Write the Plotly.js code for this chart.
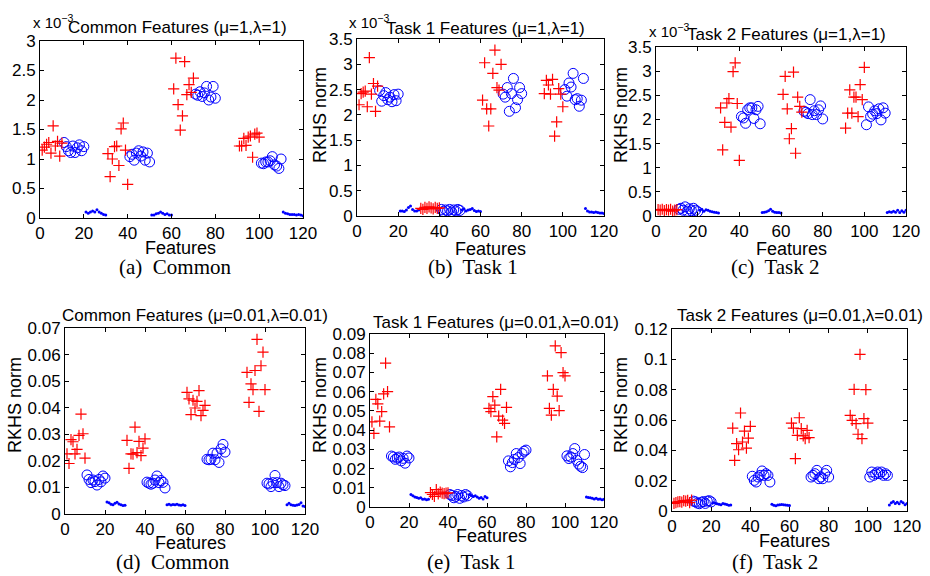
<!DOCTYPE html>
<html><head><meta charset="utf-8">
<script src="https://cdn.plot.ly/plotly-3.0.1.min.js"></script>
<style>body{margin:0;background:#fff}#chart{width:930px;height:576px}</style>
</head><body><div id="chart"></div>
<script>
// Feature indices (x values)
const featCross = [1,2,3,4,5,6,7,8,9,10, 31,32,33,34,35,36,37,38,39,40, 61,62,63,64,65,66,67,68,69,70, 91,92,93,94,95,96,97,98,99,100];
const featCircle = [11,12,13,14,15,16,17,18,19,20, 41,42,43,44,45,46,47,48,49,50, 71,72,73,74,75,76,77,78,79,80, 101,102,103,104,105,106,107,108,109,110];
const featDot = [21,22,23,24,25,26,27,28,29,30, 51,52,53,54,55,56,57,58,59,60, 111,112,113,114,115,116,117,118,119,120];

// (a) Common, mu=1, lambda=1  (values in units of 1e-3)
const crossA = [1.15,1.2,1.25,1.28,1.1,1.56,1.22,1.3,1.05,1.27, 1.09,0.7,1.0,1.21,1.22,0.89,1.51,1.61,1.15,0.57, 2.19,2.71,1.92,1.49,1.73,2.65,2.09,2.26,2.13,2.37, 1.22,1.22,1.35,1.23,1.37,1.39,1.03,1.42,1.44,1.37];
const circleA = [1.28,1.21,1.14,1.11,1.22,1.11,1.19,1.24,1.14,1.21, 1.04,1.08,0.98,1.1,1.14,1.05,1.12,0.98,1.1,0.95, 2.1,2.08,2.14,2.06,2.12,2.23,2.0,2.05,2.23,2.03, 0.93,0.92,0.95,0.95,0.97,1.04,0.9,0.88,0.84,1.0];
const dotA = [0.1,0.08,0.1,0.12,0.1,0.14,0.1,0.08,0.06,0.05, 0.05,0.05,0.07,0.08,0.1,0.08,0.06,0.07,0.05,0.05, 0.1,0.08,0.07,0.06,0.06,0.06,0.05,0.06,0.05,0.04];

// (b) Task 1, mu=1, lambda=1  (x 1e-3)
const crossB = [2.2,2.42,2.45,2.47,2.16,3.13,2.41,2.62,2.07,2.57, 0.15,0.13,0.17,0.15,0.18,0.16,0.14,0.17,0.15,0.16, 2.29,3.03,2.12,1.78,2.12,2.82,3.28,2.54,2.49,3.0, 2.42,2.68,2.59,2.41,2.7,1.58,1.86,2.52,2.41,2.16];
const circleB = [2.48,2.27,2.38,2.44,2.3,2.35,2.26,2.4,2.28,2.41, 0.13,0.09,0.12,0.1,0.13,0.08,0.12,0.1,0.13,0.11, 2.41,2.35,2.54,2.07,2.42,2.72,2.14,2.3,2.54,2.42, 2.5,2.37,2.63,2.55,2.82,2.3,2.32,2.17,2.29,2.72];
const dotB = [0.1,0.1,0.09,0.12,0.17,0.2,0.13,0.1,0.1,0.12, 0.12,0.14,0.1,0.12,0.13,0.15,0.11,0.09,0.1,0.09, 0.15,0.1,0.08,0.08,0.07,0.08,0.07,0.06,0.06,0.05];

// (c) Task 2, mu=1, lambda=1  (x 1e-3)
const crossC = [0.13,0.12,0.14,0.11,0.13,0.12,0.14,0.1,0.12,0.13, 2.24,1.37,1.94,2.34,2.43,1.84,2.99,3.17,2.33,1.15, 2.52,2.89,2.22,1.6,1.81,2.98,1.3,2.46,2.27,2.15, 1.82,2.13,2.61,2.13,2.46,2.46,2.06,2.72,2.41,3.08];
const circleC = [0.14,0.16,0.12,0.19,0.1,0.15,0.11,0.16,0.12,0.09, 2.06,2.03,1.92,2.2,2.24,2.24,2.02,2.2,2.27,1.91, 2.17,2.15,2.12,2.41,2.1,2.18,2.1,2.2,2.28,2.01, 1.89,2.26,2.06,2.11,2.18,2.12,2.22,1.99,2.24,2.13];
const dotC = [0.12,0.14,0.1,0.13,0.12,0.1,0.09,0.08,0.07,0.06, 0.07,0.08,0.09,0.11,0.14,0.1,0.08,0.07,0.07,0.06, 0.07,0.09,0.08,0.1,0.08,0.12,0.07,0.11,0.08,0.12];

// (d) Common, mu=0.01, lambda=0.01
const crossD = [0.0226,0.019,0.028,0.0272,0.0226,0.0243,0.0296,0.0376,0.0302,0.021, 0.0277,0.0172,0.0226,0.0225,0.0327,0.0231,0.0273,0.022,0.0248,0.0283, 0.0458,0.0433,0.0374,0.0428,0.0399,0.0424,0.0464,0.037,0.039,0.0409, 0.0533,0.042,0.049,0.0468,0.054,0.0657,0.0386,0.0558,0.0609,0.0468];
const circleD = [0.0147,0.013,0.0118,0.0128,0.0122,0.0109,0.013,0.0121,0.0143,0.0135, 0.012,0.0116,0.0112,0.0116,0.0128,0.0143,0.0118,0.0126,0.0119,0.0098, 0.0206,0.0204,0.0206,0.0229,0.0204,0.0229,0.0194,0.0245,0.0262,0.0233, 0.0116,0.0113,0.0103,0.0118,0.0145,0.0118,0.0103,0.0116,0.011,0.0107];
const dotD = [0.0045,0.0042,0.0037,0.0035,0.004,0.0044,0.0038,0.0035,0.0032,0.0033, 0.0035,0.0037,0.0034,0.0036,0.0035,0.0037,0.0034,0.0033,0.0035,0.0032, 0.0035,0.004,0.0035,0.0033,0.0032,0.0034,0.0036,0.0042,0.003,0.0028];

// (e) Task 1, mu=0.01, lambda=0.01
const crossE = [0.0443,0.0383,0.056,0.0536,0.0447,0.0496,0.0588,0.0748,0.06,0.0417, 0.0075,0.0065,0.0055,0.009,0.0068,0.0078,0.0072,0.007,0.0072,0.0073, 0.0513,0.0496,0.0574,0.053,0.0365,0.0473,0.0612,0.0452,0.0435,0.0518, 0.0682,0.0513,0.0478,0.0612,0.0838,0.0577,0.0501,0.0803,0.0699,0.0682];
const circleE = [0.0265,0.026,0.0248,0.0255,0.026,0.024,0.0253,0.0228,0.0265,0.0255, 0.0065,0.006,0.0048,0.0055,0.0065,0.0045,0.006,0.0052,0.0065,0.0058, 0.024,0.0209,0.0231,0.0247,0.0278,0.0257,0.0226,0.0278,0.029,0.0296, 0.0266,0.0252,0.026,0.0278,0.0304,0.0243,0.0223,0.0212,0.0205,0.0273];
const dotE = [0.0065,0.0058,0.0052,0.005,0.0045,0.0048,0.004,0.0042,0.0038,0.004, 0.0065,0.006,0.0055,0.0058,0.0052,0.0045,0.005,0.0042,0.0055,0.0048, 0.0052,0.005,0.0048,0.0045,0.0042,0.0046,0.004,0.0042,0.0038,0.004];

// (f) Task 2, mu=0.01, lambda=0.01
const crossF = [0.005,0.0055,0.006,0.0062,0.0058,0.0068,0.0065,0.007,0.0055,0.0072, 0.0547,0.0334,0.0444,0.0404,0.0646,0.0455,0.0527,0.0415,0.048,0.0558, 0.058,0.0547,0.0345,0.0499,0.0615,0.0543,0.0495,0.0477,0.0532,0.0484, 0.0631,0.0598,0.0802,0.0576,0.0506,0.1033,0.0477,0.0609,0.08,0.058];
const circleF = [0.0065,0.006,0.0052,0.0048,0.0058,0.0062,0.005,0.0065,0.0068,0.006, 0.0229,0.0202,0.0191,0.0224,0.0235,0.0264,0.0235,0.0246,0.0235,0.0191, 0.0224,0.0235,0.0246,0.0268,0.0213,0.0224,0.0213,0.0246,0.0268,0.0224, 0.0224,0.0257,0.0235,0.0246,0.0257,0.0246,0.0257,0.0235,0.0246,0.0235];
const dotF = [0.0055,0.0052,0.0048,0.0045,0.0042,0.005,0.0046,0.0043,0.0038,0.004, 0.0045,0.0038,0.0035,0.004,0.0042,0.0043,0.0042,0.004,0.0038,0.0037, 0.004,0.0055,0.0062,0.005,0.0058,0.0048,0.0062,0.0055,0.0042,0.005];

// Text
const titles = ['Common Features (\u03bc=1,\u03bb=1)', 'Task 1 Features (\u03bc=1,\u03bb=1)', 'Task 2 Features (\u03bc=1,\u03bb=1)',
  'Common Features (\u03bc=0.01,\u03bb=0.01)', 'Task 1 Features (\u03bc=0.01,\u03bb=0.01)', 'Task 2 Features (\u03bc=0.01,\u03bb=0.01)'];
const captions = ['(a)\u00a0 Common', '(b)\u00a0 Task 1', '(c)\u00a0 Task 2', '(d)\u00a0 Common', '(e)\u00a0 Task 1', '(f)\u00a0 Task 2'];
const xTickVals = [0,20,40,60,80,100,120];
const yRanges = [[0,3],[0,3.5],[0,3.5],[0,0.07],[0,0.09],[0,0.12]];
const yDticks = [0.5,0.5,0.5,0.01,0.01,0.02];

const W = 930, H = 576;
const px = v => v / W, py = v => 1 - v / H;

// layout geometry (pixels)
const boxes = [
  {l:40, r:303, t:41, b:218}, {l:357, r:604, t:39, b:216}, {l:656, r:906, t:47, b:216},
  {l:65, r:305, t:328, b:514}, {l:370, r:604, t:334, b:507}, {l:672, r:907, t:329, b:511}
];
const titlePos = [[177,27],[485,28],[786,34],[195,315],[496,322],[800,315]];
const xlabPos = [[180,248],[490,249],[791,249],[190,543],[491,536],[794,541]];
const ylabPos = [null,[320,115],[621,115],[15,405],[320,405],[621,405]];
const capPos = [[175,267],[473,267],[775,267],[173,562],[471,562],[775,562]];
const expPos = [[31,21],[347,22],[647,30]];

const panels = [
  [crossA, circleA, dotA], [crossB, circleB, dotB], [crossC, circleC, dotC],
  [crossD, circleD, dotD], [crossE, circleE, dotE], [crossF, circleF, dotF]
];

const FONT = '"Liberation Sans", Arial, Helvetica, sans-serif';
const SERIF = '"Liberation Serif", "Times New Roman", Times, serif';
const traces = [];
const layout = {
  width: W, height: H, margin: {l:0, r:0, t:0, b:0},
  paper_bgcolor: '#fff', plot_bgcolor: '#fff', showlegend: false,
  font: {family: FONT, color: '#000'},
  annotations: []
};

panels.forEach((p, i) => {
  const n = i === 0 ? '' : String(i + 1);
  const xa = 'x' + n, ya = 'y' + n;
  traces.push({x: featDot, y: p[2], xaxis: xa, yaxis: ya, type: 'scatter', mode: 'markers',
    marker: {symbol: 'circle', size: 3, color: '#0000ff'}, hoverinfo: 'skip'});
  traces.push({x: featCircle, y: p[1], xaxis: xa, yaxis: ya, type: 'scatter', mode: 'markers',
    marker: {symbol: 'circle-open', size: 10, color: '#0000ff', line: {width: 1, color: '#0000ff'}}, hoverinfo: 'skip'});
  traces.push({x: featCross, y: p[0], xaxis: xa, yaxis: ya, type: 'scatter', mode: 'markers',
    marker: {symbol: 'cross-thin', size: 8, color: '#ff0000', line: {width: 1.2, color: '#ff0000'}}, hoverinfo: 'skip'});
  const b = boxes[i];
  const common = {showline: true, linecolor: '#000', linewidth: 1, mirror: 'ticks', ticks: 'inside',
    ticklen: 4, tickcolor: '#000', showgrid: false, zeroline: false, fixedrange: true,
    tickfont: {family: FONT, size: 17, color: '#000'}};
  layout['xaxis' + n] = Object.assign({}, common, {domain: [px(b.l), px(b.r)], range: [0, 120],
    tickvals: xTickVals, anchor: ya, ticklabelstandoff: 0});
  layout['yaxis' + n] = Object.assign({}, common, {domain: [py(b.b), py(b.t)], range: yRanges[i],
    dtick: yDticks[i], tick0: 0, anchor: xa});
  const A = layout.annotations;
  A.push({xref:'paper', yref:'paper', x: px(titlePos[i][0]), y: py(titlePos[i][1]), text: titles[i],
    showarrow:false, xanchor:'center', yanchor:'middle', font:{family: FONT, size: 17, color:'#000'}});
  A.push({xref:'paper', yref:'paper', x: px(xlabPos[i][0]), y: py(xlabPos[i][1]), text: 'Features',
    showarrow:false, xanchor:'center', yanchor:'middle', font:{family: FONT, size: 18, color:'#000'}});
  if (ylabPos[i]) A.push({xref:'paper', yref:'paper', x: px(ylabPos[i][0]), y: py(ylabPos[i][1]), text: 'RKHS norm',
    textangle: -90, showarrow:false, xanchor:'center', yanchor:'middle', font:{family: FONT, size: 18, color:'#000'}});
  A.push({xref:'paper', yref:'paper', x: px(capPos[i][0]), y: py(capPos[i][1]), text: captions[i],
    showarrow:false, xanchor:'center', yanchor:'middle', font:{family: SERIF, size: 21, color:'#000'}});
  if (i < 3) A.push({xref:'paper', yref:'paper', x: px(expPos[i][0]), y: py(expPos[i][1]), text: 'x 10<sup>\u22123</sup>',
    showarrow:false, xanchor:'left', yanchor:'middle', font:{family: FONT, size: 15, color:'#000'}});
});

Plotly.newPlot('chart', traces, layout, {staticPlot: true, displayModeBar: false});
</script>
</body></html>
